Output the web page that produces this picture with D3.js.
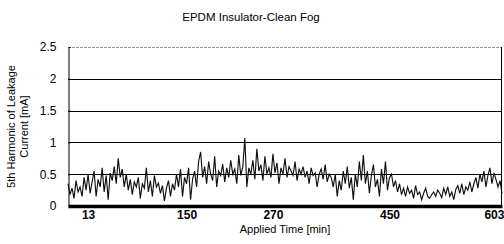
<!DOCTYPE html>
<html><head><meta charset="utf-8">
<script src="https://cdn.jsdelivr.net/npm/d3@7"></script>
<style>
body{margin:0;background:#fff;}
svg{display:block;}
</style></head>
<body><svg id="c" width="504" height="244"></svg>
<script>
const title = "EPDM Insulator-Clean Fog";
const yLabelLines = ["5th Harmonic of Leakage", "Current [mA]"];
const xLabel = "Applied Time [min]";
const yTicks = [0, 0.5, 1, 1.5, 2, 2.5];
const yTickLabels = ["0", "0.5", "1", "1.5", "2", "2.5"];
const xTickIndex = [10, 59, 102, 160, 212];
const xTickLabels = ["13", "150", "270", "450", "603"];
const values = [
0.35,0.18,0.28,0.12,0.4,0.22,0.3,0.15,0.45,0.25,0.5,0.2,
0.38,0.55,0.15,0.42,0.3,0.6,0.22,0.48,0.1,0.52,
0.4,0.62,0.35,0.75,0.45,0.58,0.3,
0.5,0.25,0.42,0.18,0.38,0.3,0.45,0.12,0.35,0.28,0.6,0.22,0.4,0.15,0.48,0.3,0.36,0.2,
0.32,0.08,0.28,0.4,0.15,0.35,0.25,
0.5,0.3,0.58,0.15,0.45,0.35,0.6,0.1,0.42,0.55,0.3,0.7,0.85,
0.45,0.62,0.35,0.7,0.5,0.4,0.78,0.3,0.55,0.48,0.66,0.38,0.6,0.45,0.72,0.5,0.58,0.35,0.8,0.48,0.62,
1.07,0.3,
0.6,0.5,0.72,0.42,0.9,0.55,0.65,0.4,0.78,0.5,0.6,0.45,0.82,0.52,0.68,0.35,0.6,0.5,0.75,0.45,0.62,0.55,0.48,0.7,0.4,0.58,0.5,
0.62,0.45,0.55,0.35,0.6,0.48,0.52,0.3,0.5,0.58,0.42,0.65,0.38,0.5,0.45,
0.3,0.5,0.15,0.4,0.25,0.55,0.35,0.62,0.28,0.45,0.1,0.5,0.3,0.7,0.4,0.8,0.35,0.55,0.2,0.48,0.65,0.3,0.42,0.15,0.58,0.35,0.7,0.25,0.45,0.5,
0.3,0.4,0.22,0.35,0.18,
0.28,0.15,0.3,0.2,0.25,0.12,0.32,0.18,0.22,0.1,0.2,0.28,0.15,0.12,0.18,0.22,0.15,0.25,0.2,0.13,0.28,0.18,0.3,0.15,0.22,0.1,0.26,0.32,0.2,0.35,0.18,0.3,0.25,0.38,0.22,
0.35,0.45,0.28,0.5,0.38,0.55,0.3,0.48,0.6,0.35,0.52,0.42,
0.3,0.4,0.2
];

const svg = d3.select("#c");
const W = 504, H = 244;
const m = {l:68, r:2, t:47, b:38};
const pw = W - m.l - m.r, ph = H - m.t - m.b;
const x = d3.scaleLinear().domain([0, values.length - 1]).range([m.l, m.l + pw]);
const y = d3.scaleLinear().domain([0, 2.5]).range([m.t + ph, m.t]);

const font = "'Liberation Sans', Arial, sans-serif";

// gridlines
svg.append("g").selectAll("line").data(yTicks.filter(d => d > 0)).join("line")
  .attr("x1", m.l).attr("x2", m.l + pw)
  .attr("y1", d => Math.round(y(d)) + 0.5).attr("y2", d => Math.round(y(d)) + 0.5)
  .attr("stroke", d => d === 2.5 ? "#999" : "#000")
  .attr("stroke-dasharray", d => d === 2.5 ? "3,1" : null)
  .attr("stroke-width", 1);

// data line
const line = d3.line().x((d, i) => x(i)).y(d => y(d));
svg.append("path").datum(values).attr("d", line)
  .attr("fill", "none").attr("stroke", "#111").attr("stroke-width", 1.15);

// left axis
const yAxis = d3.axisLeft(y).tickValues(yTicks).tickFormat((d, i) => yTickLabels[i]).tickSize(-2).tickPadding(12);
const ga = svg.append("g").attr("transform", `translate(${m.l + 0.5},0)`).call(yAxis);
ga.select(".domain").attr("stroke", "#000");
ga.selectAll(".tick line").attr("stroke", "#000");
ga.selectAll("text").attr("font-family", font).attr("font-size", 12).attr("fill", "#000");

// right border
svg.append("line").attr("x1", m.l + pw - 0.5).attr("x2", m.l + pw - 0.5)
  .attr("y1", y(2.5)).attr("y2", y(0)).attr("stroke", "#000").attr("stroke-width", 1);

// x axis
const xAxis = d3.axisBottom(x).tickValues(xTickIndex).tickFormat((d, i) => xTickLabels[i]).tickSize(0).tickPadding(4);
const gx = svg.append("g").attr("transform", `translate(0,${y(0)})`).call(xAxis);
gx.select(".domain").attr("stroke", "#000").attr("stroke-width", 3.5);
gx.selectAll("text").attr("font-family", "'Liberation Sans Narrow', 'Liberation Sans', sans-serif")
  .attr("font-weight", "bold").attr("font-size", 12).attr("fill", "#000");

// title
svg.append("text").attr("x", 251).attr("y", 21).attr("text-anchor", "middle")
  .attr("font-family", font).attr("font-size", 11.5).attr("fill", "#000").text(title);

// x label
svg.append("text").attr("x", m.l + pw / 2).attr("y", 233).attr("text-anchor", "middle")
  .attr("font-family", font).attr("font-size", 11).attr("fill", "#000").text(xLabel);

// y label
const yl = svg.append("text").attr("transform", `translate(15,${m.t + ph / 2}) rotate(-90)`)
  .attr("text-anchor", "middle").attr("font-family", font).attr("font-size", 11).attr("fill", "#000");
yLabelLines.forEach((t, i) => yl.append("tspan").attr("x", 0).attr("dy", i === 0 ? 0 : 13).text(t));
</script></body></html>
